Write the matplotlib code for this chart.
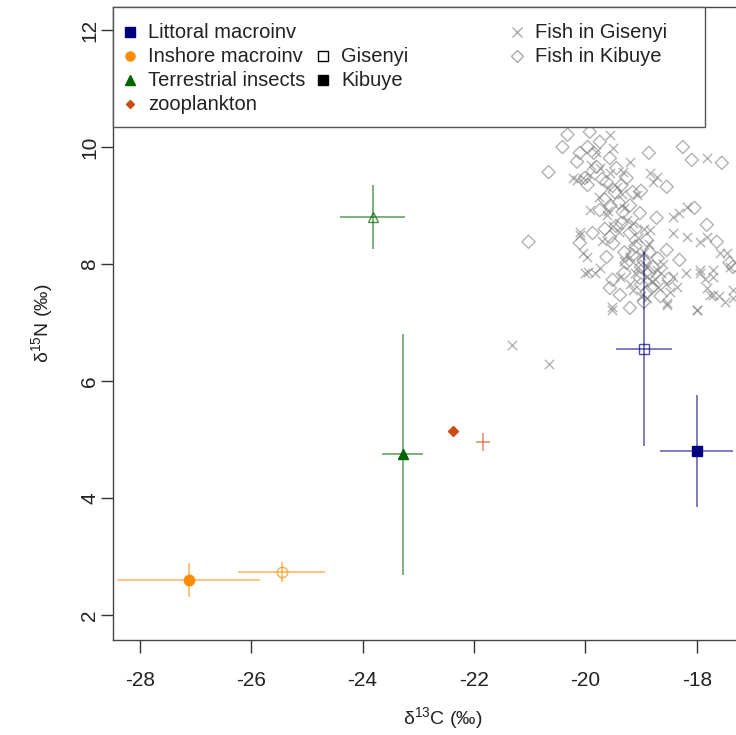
import matplotlib
matplotlib.use("Agg")
import matplotlib.pyplot as plt
from matplotlib.patches import Rectangle

plt.rcParams['font.family'] = ['Liberation Sans', 'DejaVu Sans']
plt.rcParams['mathtext.fontset'] = 'custom'
plt.rcParams['mathtext.rm'] = 'Liberation Sans'
plt.rcParams['mathtext.default'] = 'regular'
plt.rcParams['axes.unicode_minus'] = False

# === Group means and sd (d13C, d15N) ===
groups = ["Littoral macroinv", "Inshore macroinv", "Terrestrial insects", "zooplankton"]
group_colors = ["#00007f", "#ff8c00", "#006400", "#cd4a10"]
group_markers = ["s", "o", "^", "D"]

gis_x  = [-18.95, -25.45, -23.82, -21.84]
gis_y  = [6.55, 2.74, 8.80, 4.96]
gis_sx = [0.50, 0.78, 0.59, 0.12]
gis_sy = [1.66, 0.17, 0.55, 0.15]

kib_x  = [-18.00, -27.12, -23.28, -22.38]
kib_y  = [4.80, 2.60, 4.75, 5.15]
kib_sx = [0.66, 1.28, 0.37, 0.05]
kib_sy = [0.96, 0.29, 2.06, 0.06]

# === Fish (Gisenyi: x, Kibuye: diamond) ===
fish_gis_x = [-21.32, -20.66, -19.92, -20.10, -19.97, -20.01, -19.83, -19.53, -18.54, -18.00,
              -17.71, -17.77, -17.46, -17.82, -18.18, -18.43, -18.72, -18.84, -20.23, -20.05,
              -17.35, -17.82, -19.62, -20.10, -20.05, -19.96, -19.15, -18.84, -18.43, -17.95,
              -18.31, -18.18, -17.59, -17.41, -17.95, -17.71, -19.74, -19.38, -19.20, -18.72,
              -18.43, -19.53, -18.54, -18.00, -17.82, -17.71, -17.35, -18.48, -19.15, -18.90,
              -19.56, -19.80, -19.74, -20.15, -19.92, -19.33, -19.44, -18.79, -19.08, -19.51,
              -19.20, -19.35, -19.60, -19.25, -19.05, -18.95, -18.90, -19.10, -18.80, -18.70,
              -19.00, -18.85, -19.50, -19.70, -19.30,
              -19.40, -19.15, -19.00, -18.90, -18.75, -18.65, -19.05, -18.95, -19.60, -19.75,
              -19.90, -19.55, -19.30, -18.60, -18.55, -19.20, -18.35, -18.20, -17.95, -17.85,
              -17.60, -17.50]
fish_gis_y = [6.62, 6.29, 8.92, 8.50, 8.12, 7.85, 7.85, 7.21, 7.33, 7.21,
              7.78, 7.47, 8.19, 8.46, 8.46, 8.80, 9.49, 9.56, 9.47, 9.47,
              7.56, 9.81, 8.84, 8.55, 8.19, 7.86, 8.70, 8.58, 8.53, 8.38,
              8.87, 8.97, 8.19, 7.95, 7.90, 7.90, 7.93, 7.78, 8.12, 7.90,
              7.78, 7.26, 7.30, 7.21, 7.59, 7.47, 7.42, 7.52, 7.56, 7.42,
              10.21, 9.91, 9.64, 9.44, 9.52, 9.57, 9.32, 9.40, 9.18, 9.98,
              9.74, 9.20, 9.30, 8.75, 8.45, 8.20, 7.95, 7.85, 7.70, 7.60,
              7.45, 8.35, 8.65, 8.40, 8.05,
              8.55, 8.35, 8.15, 7.80, 7.75, 7.85, 7.95, 8.60, 8.90, 9.15,
              9.70, 9.55, 8.95, 8.00, 7.65, 7.65, 7.60, 7.85, 7.85, 7.75,
              7.45, 7.35]

fish_kib_x = [-21.02, -20.66, -18.86, -18.25, -18.09, -17.55, -20.32, -20.41, -20.10, -19.92,
              -19.96, -19.74, -19.56, -19.80, -20.01, -19.96, -19.62, -19.44, -19.26, -18.54,
              -19.15, -19.47, -19.74, -19.33, -19.02, -18.72, -18.04, -17.82, -20.10, -19.87,
              -19.56, -19.20, -18.90, -18.54, -19.62, -19.26, -18.79, -18.31, -17.41, -19.51,
              -19.02, -17.64, -19.56, -19.20, -18.90, -19.38, -17.35, -19.45, -19.10, -18.95,
              -19.30, -18.85, -19.00, -18.70, -19.40, -19.65, -19.20, -19.50, -18.95,
              -19.85, -20.15, -19.70, -19.35, -19.55, -19.35, -19.10, -18.85, -19.15, -19.00,
              -18.80, -19.30, -18.65, -19.65, -19.00, -18.50]
fish_kib_y = [8.38, 9.57, 9.90, 10.00, 9.78, 9.73, 10.21, 10.00, 9.90, 10.26,
              10.00, 10.09, 9.81, 9.66, 9.47, 9.35, 9.40, 9.64, 9.47, 9.32,
              9.23, 9.23, 8.92, 8.89, 8.87, 8.79, 8.96, 8.67, 8.36, 8.53,
              8.46, 8.53, 8.41, 8.24, 8.12, 8.02, 7.95, 8.07, 8.02, 7.73,
              7.76, 8.38, 7.59, 7.25, 7.52, 7.47, 7.95, 8.65, 8.30, 8.05,
              8.20, 7.85, 7.65, 8.10, 9.05, 9.10, 9.00, 8.35, 7.35,
              9.90, 9.75, 9.45, 9.35, 9.00, 8.70, 8.60, 8.20, 8.15, 7.95,
              7.60, 7.85, 7.45, 8.60, 9.25, 7.75]

# === Figure ===
W, H = 736, 735
fig = plt.figure(figsize=(W / 100, H / 100), dpi=100)
ax = fig.add_axes([113 / W, 95 / H, 660 / W, 633 / H])
ax.set_xlim(-28.48, -28.48 + 660 / 55.7)
ax.set_ylim(1.573, 12.393)

ax.scatter(fish_gis_x, fish_gis_y, marker='x', s=45, c='gray', alpha=0.6, linewidths=1.0, zorder=2)
ax.scatter(fish_kib_x, fish_kib_y, marker='D', s=45, facecolors='none', edgecolors='gray',
           alpha=0.6, linewidths=1.0, zorder=2)

for i in range(len(groups)):
    col = group_colors[i]
    ms = 5 if group_markers[i] == 'D' else 7.5
    # Gisenyi: open symbols
    ax.errorbar(gis_x[i], gis_y[i], xerr=gis_sx[i], yerr=gis_sy[i], fmt='none',
                ecolor=col, alpha=0.55, elinewidth=1.3, capsize=0, zorder=3)
    if group_markers[i] != 'D':
        ax.plot(gis_x[i], gis_y[i], marker=group_markers[i], ms=ms, mfc='none', mec=col,
                mew=1.0, alpha=0.7, zorder=4)
    # Kibuye: filled symbols
    ax.errorbar(kib_x[i], kib_y[i], xerr=kib_sx[i], yerr=kib_sy[i], fmt='none',
                ecolor=col, alpha=0.55, elinewidth=1.3, capsize=0, zorder=3)
    ax.plot(kib_x[i], kib_y[i], marker=group_markers[i], ms=ms, color=col, mec=col, zorder=4)

ax.set_xticks([-28, -26, -24, -22, -20, -18])
ax.set_yticks([2, 4, 6, 8, 10, 12])
ax.tick_params(direction='out', length=9, width=1, colors='#333333', labelsize=15)
ax.tick_params(axis='x', labelcolor='#222222', pad=13)
ax.tick_params(axis='y', labelcolor='#222222', pad=1)
for lab in ax.get_yticklabels():
    lab.set_rotation(90)
    lab.set_va('center')
for sp in ax.spines.values():
    sp.set_color('#444444')
    sp.set_linewidth(1.0)

ax.set_xlabel('δ$^{13}$C (‰)', fontsize=14, labelpad=11, color='#222222')
ax.set_ylabel('δ$^{15}$N (‰)', fontsize=14, labelpad=18, color='#222222')

# === Legend (drawn by hand, R style with equal columns) ===
def fx(px):
    return px / W

def fy(py):
    return 1 - py / H

fig.add_artist(Rectangle((fx(113), fy(127)), (705 - 113) / W, (127 - 7) / H,
                         transform=fig.transFigure, facecolor='white',
                         edgecolor='#555555', lw=1.0, zorder=10))

legend_items = [
    (130, 32, 's', groups[0], group_colors[0], True),
    (130, 56, 'o', groups[1], group_colors[1], True),
    (130, 80, '^', groups[2], group_colors[2], True),
    (130, 104, 'D', groups[3], group_colors[3], True),
    (323, 56, 's', "Gisenyi", 'black', False),
    (323, 80, 's', "Kibuye", 'black', True),
    (517, 32, 'x', "Fish in Gisenyi", '#aaaaaa', True),
    (517, 56, 'D', "Fish in Kibuye", '#aaaaaa', False),
]
for px, py, mk, lab, col, filled in legend_items:
    ms = 4 if (mk == 'D' and filled) else 6.5
    line = plt.Line2D([fx(px)], [fy(py)], marker=mk, ms=ms, linestyle='none',
                      color=col, mfc=col if filled else 'none', mec=col,
                      mew=1.0, transform=fig.transFigure, zorder=11)
    fig.add_artist(line)
    fig.text(fx(px + 18), fy(py), lab, fontsize=14.5, va='center', ha='left',
             color='#222222', zorder=11)

fig.savefig("out.png", dpi=100)
